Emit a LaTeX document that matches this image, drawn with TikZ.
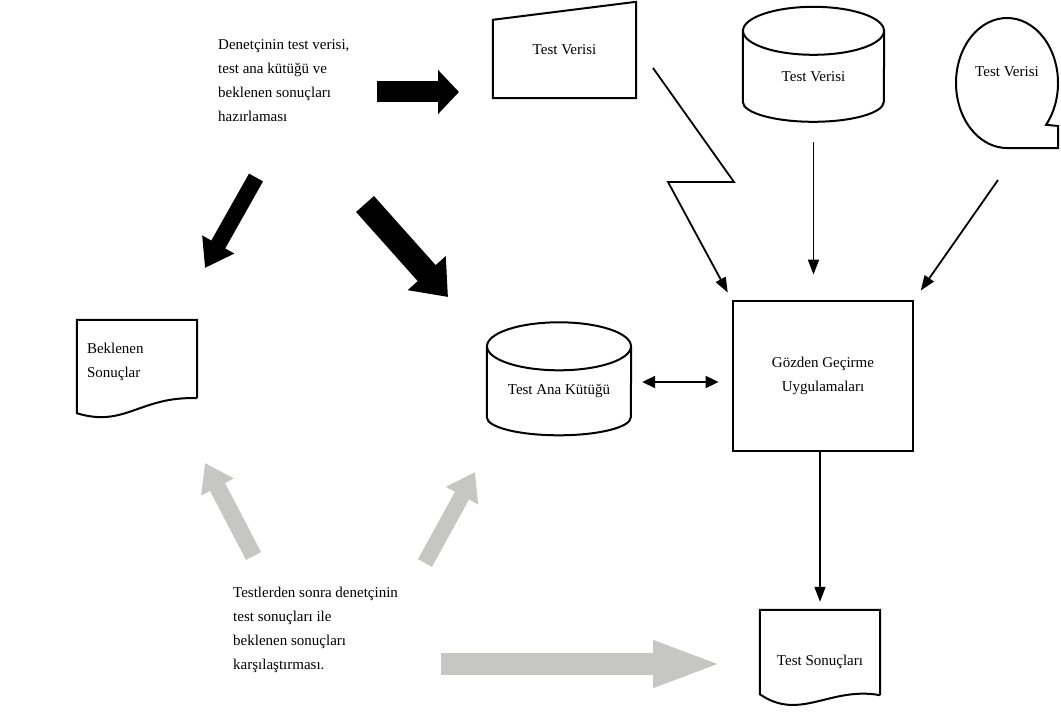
\documentclass[tikz,border=0pt]{standalone}
\usepackage{fontspec}
\setmainfont{Liberation Serif}
\usetikzlibrary{arrows.meta,calc}
\tikzstyle{every node} = [font=\fontsize{15}{24}\selectfont]
\tikzstyle{box} = [draw, line width=2pt, inner sep=0pt]
\tikzstyle{plain} = [inner sep=0pt]
\tikzstyle{outline} = [line width=2pt, line join=miter]
\tikzstyle{note} = [align=left, anchor=north west, inner sep=0pt]
\tikzstyle{link} = [line width=1.8pt, -{Triangle[length=15pt,width=11pt]}]
\tikzset{fat/.style n args={3}{line width=#1, -{Triangle[length=#2,width=#3]}}}
\definecolor{pale}{RGB}{198,198,194}

\begin{document}
\begin{tikzpicture}[x=1pt,y=1pt]
  \useasboundingbox (0,0) rectangle (1061,-717);

  % data sources
  \node[plain, minimum width=143pt, minimum height=96pt] (elle) at (564.5,-50) {Test Verisi};
  \draw[outline] (elle.south west) -- (elle.south east) -- (elle.north east)
        -- ($(elle.north west)+(0,-18)$) -- cycle;
  \node[plain, minimum width=141pt, minimum height=91pt] (disk) at (813.5,-76.5) {Test Verisi};
  \draw[outline] (disk.north) ellipse[x radius=70.5, y radius=24];
  \draw[outline] (disk.north west) -- ++(0,-71) arc[start angle=180, end angle=360, x radius=70.5, y radius=20] -- (disk.north east);
  \node[plain, minimum width=102pt, minimum height=130pt] (serit) at (1007,-72) {Test Verisi};
  \draw[outline] ($(serit.center)+(0,-11)$) ++(-40:51 and 65)
        arc[start angle=-40, end angle=270, x radius=51, y radius=65]
        -- ++(51,0) -- ++(0,22) -- cycle;

  % programs and files
  \node[box, line width=2.8pt, minimum width=180pt, minimum height=150pt, align=center] (gozden) at (823,-376) {G\"ozden Ge\c{c}irme\\Uygulamalar\i};
  \node[plain, minimum width=144pt, minimum height=89pt] (ana) at (559,-391) {Test Ana K\"ut\"u\u{g}\"u};
  \draw[outline] (ana.north) ellipse[x radius=72, y radius=24];
  \draw[outline] (ana.north west) -- ++(0,-71) arc[start angle=180, end angle=360, x radius=72, y radius=18] -- (ana.north east);
  \node[plain, minimum width=120pt, minimum height=84pt, text width=100pt, align=left] (beklenen) at (137,-362) {Beklenen\\Sonu\c{c}lar};
  \draw[outline] ($(beklenen.south east)+(0,6)$) -- (beklenen.north east) -- (beklenen.north west)
        -- ($(beklenen.south west)+(0,-9)$) .. controls (125,-428) and (140,-396) .. ($(beklenen.south east)+(0,6)$);
  \node[plain, minimum width=120pt, minimum height=104pt] (sonuc) at (820,-662) {Test Sonu\c{c}lar\i};
  \draw[outline] ($(sonuc.south east)+(0,19)$) -- (sonuc.north east) -- (sonuc.north west)
        -- ($(sonuc.south west)+(0,20)$) .. controls (800,-722) and (830,-686) .. ($(sonuc.south east)+(0,19)$);

  % notes
  \node[note] (hazir) at (218,-39) {Denet\c{c}inin test verisi,\\test ana k\"ut\"u\u{g}\"u ve\\beklenen sonu\c{c}lar\i\\haz\i rlamas\i};
  \node[note] (karsi) at (233,-587) {Testlerden sonra denet\c{c}inin\\test sonu\c{c}lar\i{} ile\\beklenen sonu\c{c}lar\i\\kar\c{s}\i la\c{s}t\i rmas\i.};

  % connectors
  \coordinate (zz) at (653,-68);
  \draw[link] (zz) -- (734,-182) -- (668,-182) -- (gozden.north west) [shorten >=8pt];
  \draw[link, shorten <=20pt, shorten >=25pt] (disk.south) -- (disk.south |- gozden.north);
  \coordinate (sr) at (998,-180);
  \draw[link, shorten >=11pt] (sr) -- (gozden.north east);
  \draw[line width=1.8pt, {Triangle[length=13pt,width=12pt]}-{Triangle[length=13pt,width=12pt]}, shorten <=11pt, shorten >=13pt]
        ($(ana.east)+(0,9)$) -- ($(ana.east -| gozden.west)+(0,9)$);
  \draw[link, shorten >=8pt] (sonuc.north |- gozden.south) -- (sonuc.north);

  % block arrows
  \draw[fat={21pt}{21pt}{43pt}] (377,-92) coordinate (h0) -- (459,-92) coordinate (h1);
  \draw[fat={16pt}{27pt}{35pt}] (256,-177.5) coordinate (h2) -- (205,-268) coordinate (h3);
  \draw[fat={24pt}{32pt}{49pt}] (365,-204) coordinate (h4) -- (448,-297) coordinate (h5);
  \draw[pale, fat={17pt}{27pt}{35pt}] (253.5,-556) coordinate (k0) -- (205,-463) coordinate (k1);
  \draw[pale, fat={16pt}{27pt}{35pt}] (425,-563) coordinate (k2) -- (475,-472) coordinate (k3);
  \draw[pale, fat={22pt}{70pt}{42pt}] (441,-664) coordinate (k4) -- (723,-664) coordinate (k5);
\end{tikzpicture}
\end{document}
